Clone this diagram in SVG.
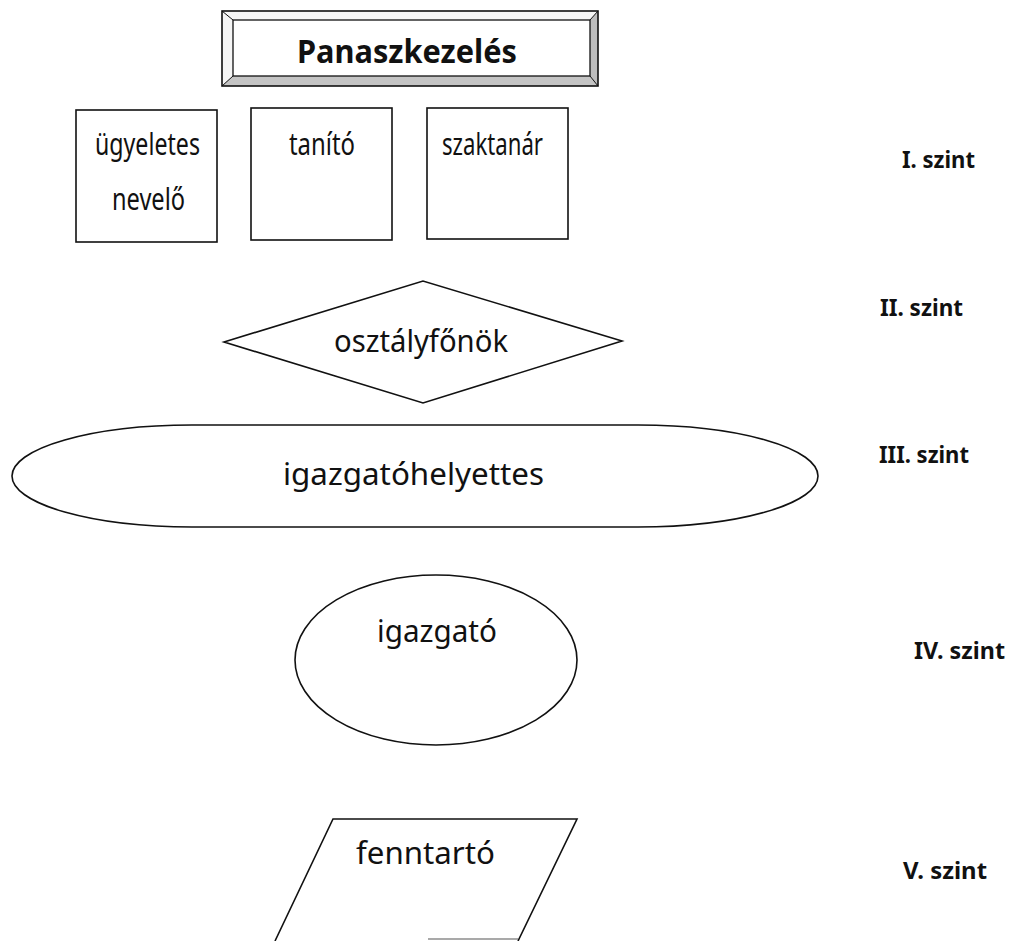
<svg xmlns="http://www.w3.org/2000/svg" width="1016" height="941" viewBox="0 0 1016 941">
  <style>
    .shape { fill: #ffffff; stroke: #111111; stroke-width: 1.6; }
    .lbl { font-family: "Noto Sans", "Open Sans", "Liberation Sans", sans-serif; fill: #111111; }
    .node { font-size: 30px; }
    .box { font-size: 31px; }
    .lvl { font-size: 23px; font-weight: bold; }
    .title { font-size: 32px; font-weight: bold; }
  </style>
  <rect width="1016" height="941" fill="#ffffff"/>

  <g id="title">
    <rect x="222" y="11" width="376" height="75" fill="#ffffff" stroke="none"/>
    <polygon points="222,11 598,11 590,20 233,20" fill="#f6f6f6"/>
    <polygon points="222,11 233,20 233,76 222,86" fill="#f6f6f6"/>
    <polygon points="598,11 598,86 590,76 590,20" fill="#bdbdbd"/>
    <polygon points="222,86 598,86 590,76 233,76" fill="#c4c4c4"/>
    <rect x="222" y="11" width="376" height="75" fill="none" stroke="#111" stroke-width="1.6"/>
    <rect x="233" y="20" width="357" height="56" fill="none" stroke="#111" stroke-width="1.3"/>
    <g stroke="#111" stroke-width="1">
      <line x1="222" y1="11" x2="233" y2="20"/>
      <line x1="598" y1="11" x2="590" y2="20"/>
      <line x1="222" y1="86" x2="233" y2="76"/>
      <line x1="598" y1="86" x2="590" y2="76"/>
    </g>
    <text class="lbl title" x="297" y="63" textLength="220" lengthAdjust="spacingAndGlyphs">Panaszkezelés</text>
  </g>

  <g id="ugyeletes-nevelo">
    <rect class="shape" x="76" y="110" width="141" height="132"/>
    <text class="lbl box" x="95" y="155" textLength="105" lengthAdjust="spacingAndGlyphs">ügyeletes</text>
    <text class="lbl box" x="112" y="210" textLength="73" lengthAdjust="spacingAndGlyphs">nevelő</text>
  </g>

  <g id="tanito">
    <rect class="shape" x="251" y="108" width="141" height="132"/>
    <text class="lbl box" x="289" y="155" textLength="66" lengthAdjust="spacingAndGlyphs">tanító</text>
  </g>

  <g id="szaktanar">
    <rect class="shape" x="427" y="108" width="141" height="131"/>
    <text class="lbl box" x="442" y="155" textLength="101" lengthAdjust="spacingAndGlyphs">szaktanár</text>
  </g>

  <g id="osztalyfonok">
    <polygon class="shape" points="224,342 423,281 622,341 423,403"/>
    <text class="lbl node" x="334" y="352" textLength="174" lengthAdjust="spacingAndGlyphs">osztályfőnök</text>
  </g>

  <g id="igazgatohelyettes">
    <rect class="shape" x="12" y="425" width="806" height="102" rx="180" ry="51"/>
    <text class="lbl node" x="283" y="485" textLength="261" lengthAdjust="spacingAndGlyphs">igazgatóhelyettes</text>
  </g>

  <g id="igazgato">
    <ellipse class="shape" cx="436" cy="660" rx="141" ry="85"/>
    <text class="lbl node" x="377" y="642" textLength="120" lengthAdjust="spacingAndGlyphs">igazgató</text>
  </g>

  <g id="fenntarto">
    <polygon points="333,819 577,819 518,941 275,941" fill="#ffffff" stroke="none"/>
    <polyline points="275,941 333,819 577,819 518,941" fill="none" stroke="#111" stroke-width="1.6"/>
    <line x1="428" y1="939" x2="518" y2="939" stroke="#555" stroke-width="1.2"/>
    <text class="lbl node" x="356" y="864" textLength="139" lengthAdjust="spacingAndGlyphs">fenntartó</text>
  </g>

  <g id="levels">
    <text class="lbl lvl" x="902" y="168" textLength="73" lengthAdjust="spacingAndGlyphs">I. szint</text>
    <text class="lbl lvl" x="880" y="316" textLength="83" lengthAdjust="spacingAndGlyphs">II. szint</text>
    <text class="lbl lvl" x="879" y="463" textLength="90" lengthAdjust="spacingAndGlyphs">III. szint</text>
    <text class="lbl lvl" x="914" y="659" textLength="91" lengthAdjust="spacingAndGlyphs">IV. szint</text>
    <text class="lbl lvl" x="903" y="879" textLength="84" lengthAdjust="spacingAndGlyphs">V. szint</text>
  </g>

  <g id="connectors"/>
</svg>
